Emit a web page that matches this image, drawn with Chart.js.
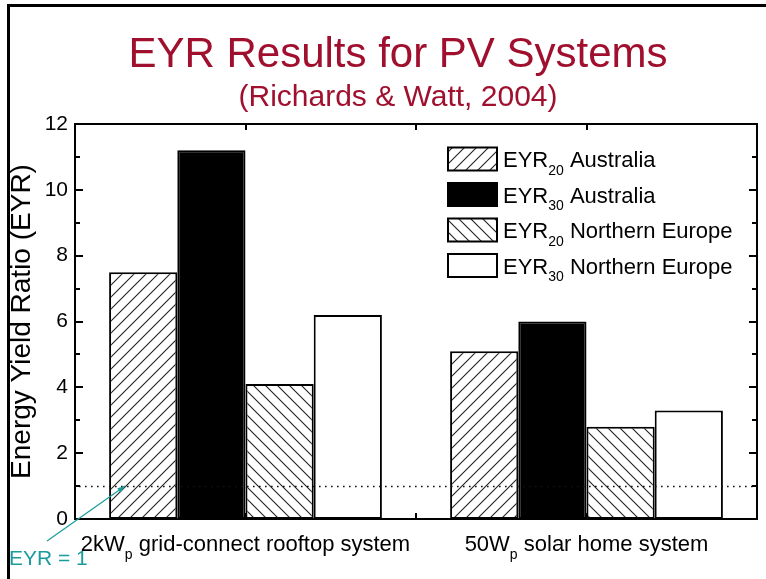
<!DOCTYPE html>
<html>
<head>
<meta charset="utf-8">
<script src="https://cdn.jsdelivr.net/npm/chart.js@4.4.1/dist/chart.umd.min.js"></script>
<style>
  html, body { margin: 0; padding: 0; background: #fff; }
  #wrap { width: 766px; height: 579px; }
</style>
</head>
<body>
<div id="wrap"><canvas id="eyrChart" width="766" height="579"></canvas></div>
<script>
// chart data
const categories = [
  ["2kW", "p", " grid-connect rooftop system"],
  ["50W", "p", " solar home system"],
];
const seriesNames = [
  ["EYR", "20", " Australia"],
  ["EYR", "30", " Australia"],
  ["EYR", "20", " Northern Europe"],
  ["EYR", "30", " Northern Europe"],
];
const eyr20Australia = [7.5, 5.1];
const eyr30Australia = [11.2, 6.0];
const eyr20NorthEurope = [4.1, 2.8];
const eyr30NorthEurope = [6.2, 3.3];
const yTicks = [0, 2, 4, 6, 8, 10, 12];
const breakEven = 1;

const FONT = "'Liberation Sans', Arial, sans-serif";
const TITLE_RED = "#a0102e";
const TEAL = "#1a9c9c";

const makeHatch = (forward) => {
  const size = 12;
  const c = document.createElement("canvas");
  c.width = size;
  c.height = size;
  const g = c.getContext("2d");
  g.fillStyle = "#fff";
  g.fillRect(0, 0, size, size);
  g.strokeStyle = "#222";
  g.lineWidth = 1.1;
  g.beginPath();
  if (forward) {
    g.moveTo(-2, size + 2); g.lineTo(size + 2, -2);
    g.moveTo(-2, 2); g.lineTo(2, -2);
    g.moveTo(size - 2, size + 2); g.lineTo(size + 2, size - 2);
  } else {
    g.moveTo(-2, -2); g.lineTo(size + 2, size + 2);
    g.moveTo(size - 2, -2); g.lineTo(size + 2, 2);
    g.moveTo(-2, size - 2); g.lineTo(2, size + 2);
  }
  g.stroke();
  return g.createPattern(c, "repeat");
};

const fills = [makeHatch(true), "#000", makeHatch(false), "#fff"];
const seriesValues = [eyr20Australia, eyr30Australia, eyr20NorthEurope, eyr30NorthEurope];

// text with a subscript part: [main, sub, rest]
const drawSubText = (ctx, parts, x, y, size, align) => {
  const [main, sub, rest] = parts;
  const subSize = Math.round(size * 0.62);
  ctx.font = `${size}px ${FONT}`;
  const w1 = ctx.measureText(main).width;
  const w3 = ctx.measureText(rest).width;
  ctx.font = `${subSize}px ${FONT}`;
  const w2 = ctx.measureText(sub).width;
  const total = w1 + w2 + w3;
  let start = align === "center" ? x - total / 2 : x;
  ctx.textAlign = "left";
  ctx.textBaseline = "alphabetic";
  ctx.font = `${size}px ${FONT}`;
  ctx.fillText(main, start, y);
  ctx.font = `${subSize}px ${FONT}`;
  ctx.fillText(sub, start + w1, y + size * 0.35);
  ctx.font = `${size}px ${FONT}`;
  ctx.fillText(rest, start + w1 + w2, y);
};

const slidePlugin = {
  id: "slide",
  beforeDraw(chart) {
    const ctx = chart.ctx;
    ctx.save();
    ctx.fillStyle = "#fff";
    ctx.fillRect(0, 0, chart.width, chart.height);
    // slide frame
    ctx.strokeStyle = "#000";
    ctx.lineWidth = 3;
    ctx.beginPath();
    ctx.moveTo(8.5, chart.height);
    ctx.lineTo(8.5, 5.5);
    ctx.lineTo(chart.width, 5.5);
    ctx.stroke();
    // titles
    ctx.fillStyle = TITLE_RED;
    ctx.textAlign = "center";
    ctx.textBaseline = "alphabetic";
    ctx.font = `42px ${FONT}`;
    ctx.fillText("EYR Results for PV Systems", 398, 67);
    ctx.font = `30px ${FONT}`;
    ctx.fillText("(Richards & Watt, 2004)", 398, 106);
    ctx.restore();
  },
  afterDatasetsDraw(chart) {
    const ctx = chart.ctx;
    const { left, right, top, bottom } = chart.chartArea;
    const x = chart.scales.x;
    const y = chart.scales.y;
    ctx.save();

    // dotted EYR = 1 line
    const yb = Math.round(y.getPixelForValue(breakEven)) + 0.5;
    ctx.strokeStyle = "#111";
    ctx.lineWidth = 1.6;
    ctx.setLineDash([1.6, 4.4]);
    ctx.beginPath();
    ctx.moveTo(left + 4, yb);
    ctx.lineTo(right - 4, yb);
    ctx.stroke();
    ctx.setLineDash([]);

    // plot frame
    ctx.strokeStyle = "#000";
    ctx.lineWidth = 2;
    ctx.strokeRect(left, top, right - left, bottom - top);

    // inward ticks on left and right
    for (let v = 0; v <= 12; v += 1) {
      const py = Math.round(y.getPixelForValue(v));
      const len = v % 2 === 0 ? 8 : 5;
      ctx.beginPath();
      ctx.moveTo(left, py); ctx.lineTo(left + len, py);
      ctx.moveTo(right, py); ctx.lineTo(right - len, py);
      ctx.stroke();
    }
    // ticks on top and bottom at category centers and middle
    const c0 = x.getPixelForValue(0);
    const c1 = x.getPixelForValue(1);
    [c0, (c0 + c1) / 2, c1].forEach((px) => {
      px = Math.round(px);
      ctx.beginPath();
      ctx.moveTo(px, top); ctx.lineTo(px, top + 6);
      ctx.moveTo(px, bottom); ctx.lineTo(px, bottom - 6);
      ctx.stroke();
    });

    // category labels with subscript
    ctx.fillStyle = "#000";
    categories.forEach((parts, i) => {
      drawSubText(ctx, parts, x.getPixelForValue(i), bottom + 32, 22, "center");
    });

    // legend
    const lx = 448, lw = 49, lh = 23;
    seriesNames.forEach((parts, i) => {
      const cy = 159 + i * 35.5;
      ctx.fillStyle = fills[i];
      ctx.fillRect(lx, cy - lh / 2, lw, lh);
      ctx.strokeStyle = "#000";
      ctx.lineWidth = 2;
      ctx.strokeRect(lx, cy - lh / 2, lw, lh);
      ctx.fillStyle = "#000";
      drawSubText(ctx, parts, 503, cy + 8, 22, "left");
    });

    // annotation
    ctx.strokeStyle = TEAL;
    ctx.fillStyle = TEAL;
    ctx.lineWidth = 1.2;
    const ax = 125, ay = y.getPixelForValue(breakEven);
    const sx = 47, sy = 541;
    ctx.beginPath();
    ctx.moveTo(sx, sy);
    ctx.lineTo(ax, ay);
    ctx.stroke();
    const ang = Math.atan2(ay - sy, ax - sx);
    ctx.beginPath();
    ctx.moveTo(ax, ay);
    ctx.lineTo(ax - 8 * Math.cos(ang - 0.35), ay - 8 * Math.sin(ang - 0.35));
    ctx.lineTo(ax - 8 * Math.cos(ang + 0.35), ay - 8 * Math.sin(ang + 0.35));
    ctx.closePath();
    ctx.fill();
    ctx.font = `21px ${FONT}`;
    ctx.textAlign = "left";
    ctx.fillText("EYR = 1", 9, 565);

    ctx.restore();
  },
};

new Chart(document.getElementById("eyrChart"), {
  type: "bar",
  data: {
    labels: categories.map((p) => p.join("")),
    datasets: seriesNames.map((parts, i) => ({
      label: parts.join(""),
      data: seriesValues[i],
      backgroundColor: fills[i],
      borderColor: "#000",
      borderWidth: 2,
      borderSkipped: false,
      categoryPercentage: 0.8,
      barPercentage: 1.0,
    })),
  },
  options: {
    responsive: false,
    animation: false,
    devicePixelRatio: 1,
    layout: { padding: { top: 124, right: 9, bottom: 60, left: 0 } },
    plugins: {
      legend: { display: false },
      title: { display: false },
      tooltip: { enabled: false },
    },
    scales: {
      x: {
        offset: true,
        grid: { display: false, drawTicks: false },
        border: { display: false },
        ticks: { display: false },
      },
      y: {
        min: 0,
        max: 12,
        afterBuildTicks: (scale) => {
          scale.ticks = yTicks.map((v) => ({ value: v }));
        },
        afterFit: (scale) => {
          scale.width = 75;
        },
        grid: { display: false, drawTicks: false },
        border: { display: false },
        ticks: {
          color: "#000",
          padding: 7,
          font: { family: FONT, size: 21 },
        },
        title: {
          display: true,
          text: "Energy Yield Ratio (EYR)",
          color: "#000",
          font: { family: FONT, size: 28 },
          padding: { top: 5, bottom: 0 },
        },
      },
    },
  },
  plugins: [slidePlugin],
});
</script>
</body>
</html>
